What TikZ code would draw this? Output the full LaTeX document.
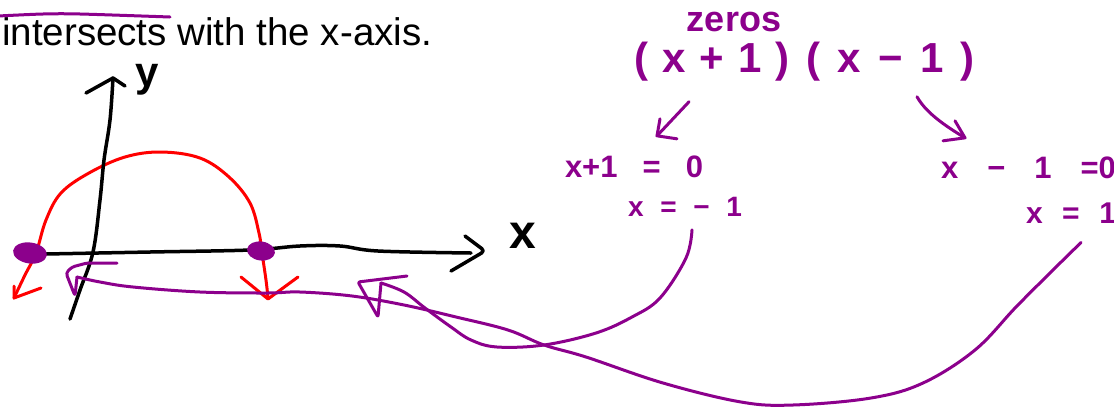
\documentclass[tikz,border=0pt]{standalone}
\usepackage{fontspec}
\setmainfont{Liberation Sans}
\usetikzlibrary{shapes.geometric}
\definecolor{purp}{RGB}{140,0,140}
\begin{document}
\begin{tikzpicture}[x=1pt,y=-1pt,
  hand/.style={line width=3pt, line cap=round, line join=round},
  pline/.style={hand, draw=purp},
  rline/.style={hand, draw=red},
  kline/.style={hand, draw=black, line width=3.5pt},
  ptext/.style={text=purp, inner sep=0pt, anchor=center},
  ktext/.style={text=black, inner sep=0pt, anchor=center},
  dot/.style={ellipse, fill=purp, inner sep=0pt},
]
\useasboundingbox[fill=white] (0,0) rectangle (1114,408);

% question text
\node[anchor=base west, inner sep=0pt, font=\fontsize{38.5}{40}\selectfont] (q) at (2,45) {intersects with the x-axis.};
\draw[pline] plot[smooth] coordinates {(-2,16) (43,14) (80,14) (170,17)};

% red parabola
\draw[rline] plot[smooth, tension=0.6] coordinates {(14,298) (25,275) (36,253) (46,220) (61,193) (89,173) (125,157) (161,152) (200,158) (229,177) (250,203) (259,233) (262,253) (266,280) (268,298)};
\draw[rline] (14,286) -- (14,298) -- (41,288);
\draw[rline] (241,277) -- (268,299) -- (298,277);

% axes
\draw[kline] plot[smooth, tension=0.6] coordinates {(70,319) (80,290) (93,252) (100,200) (104,160) (110,120) (113,78)};
\draw[kline] (86,93) -- (113,78) -- (125,86);
\node[ktext, font=\bfseries\fontsize{42}{42}\selectfont] (yl) at (147,80) {y};
\draw[kline] plot[smooth, tension=0.6] coordinates {(46,254) (150,252) (250,250) (300,246) (340,246) (378,251) (471,253)};
\draw[kline, rounded corners=4pt] (465,236) -- (485,251) -- (451,271);
\node[ktext, font=\bfseries\fontsize{48}{48}\selectfont] (xl) at (523,236) {x};

% zeros on the axis
\node[dot, minimum width=34pt, minimum height=21pt, rotate=-8] (d1) at (30,253) {};
\node[dot, minimum width=28pt, minimum height=19pt, rotate=-8] (d2) at (261,251) {};

% purple work
\node[ptext, font=\bfseries\fontsize{36}{36}\selectfont] (zeros) at (734,22) {zeros};
\node[ptext, font=\bfseries\fontsize{42}{42}\selectfont] (f1) at (712,62) {\makebox[156pt][s]{( x + 1 )}};
\node[ptext, font=\bfseries\fontsize{42}{42}\selectfont] (f2) at (890.5,62) {\makebox[169pt][s]{( x − 1 )}};
\node[ptext, font=\bfseries\fontsize{31}{31}\selectfont] (eq1) at (634,167) {\makebox[138pt][s]{x+1 = 0}};
\node[ptext, font=\bfseries\fontsize{28}{28}\selectfont] (xm1) at (685,207) {\makebox[114pt][s]{x = − 1}};
\node[ptext, font=\bfseries\fontsize{31}{31}\selectfont] (eq2) at (1028.5,168) {\makebox[175pt][s]{x − 1 =0}};
\node[ptext, font=\bfseries\fontsize{30}{30}\selectfont] (xp1) at (1071,213) {\makebox[90pt][s]{x = 1}};

% arrows from factors to equations
\coordinate (tipL) at ([shift={(23,-20)}]eq1.north);
\draw[pline] ([shift={(-23,20)}]f1.south) -- (tipL);
\draw[pline] (tipL) ++(3,-17) -- (tipL) -- ++(20,3);
\coordinate (tipR) at ([shift={(-63.5,-19)}]eq2.north);
\draw[pline] ([shift={(26.5,15)}]f2.south) .. controls +(8,14) and +(-25,-15) .. (tipR);
\draw[pline] (tipR) ++(-10,-17) -- (tipR) -- ++(-22,3);

% connector from x = -1 to the axis
\coordinate (tipA) at (381,283);
\draw[pline] plot[smooth, tension=0.6] coordinates {([shift={(7,13)}]xm1.south) (686,258) (660,298) (632,317) (596,333) (544,345) (497,347) (471,340) (451,327) (425,308) (404,292) (tipA)};
\draw[pline, rounded corners=2pt] (tipA) -- (378,317) -- (358,282) -- (407,276);

% connector from x = 1 to the axis
\coordinate (tipB) at (77,277);
\draw[pline] plot[smooth, tension=0.6] coordinates {([shift={(10,19)}]xp1.south) (1053,270) (1016,307) (975,350) (923,383) (871,398) (793,405) (741,402) (663,383) (586,357) (544,345) (508,330) (456,317) (404,305) (352,296) (300,292) (267,293) (200,292) (133,287) (100,282) (tipB)};
\draw[pline, rounded corners=3pt] (tipB) -- (75,296) -- (66,273) -- (72,267) -- (87,263) -- (117,263);
\end{tikzpicture}
\end{document}
